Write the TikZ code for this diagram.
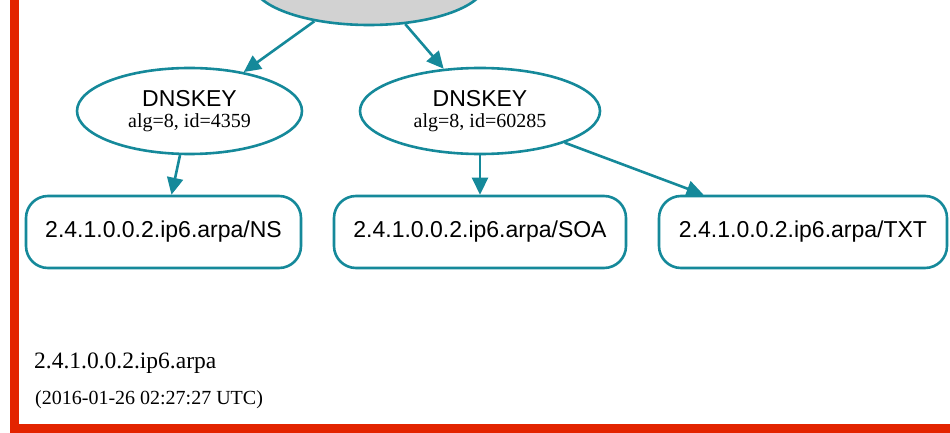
\documentclass[tikz,border=0pt]{standalone}
\usepackage{fontspec}
\setmainfont{Liberation Serif}
\setsansfont{Liberation Sans}
\usepackage{tikz}
\usetikzlibrary{shapes.geometric,arrows.meta}

\definecolor{dnsteal}{HTML}{15899A}
\definecolor{framered}{HTML}{E32400}

\tikzset{
  keynode/.style={draw=dnsteal,line width=2.6pt,ellipse,inner sep=0pt,
    minimum height=86pt,align=center,
    font=\sffamily\fontsize{23}{20}\selectfont},
  rrset/.style={draw=dnsteal,line width=2.6pt,rectangle,rounded corners=22pt,
    minimum height=72pt,inner sep=0pt,font=\sffamily\fontsize{23}{28}\selectfont},
  sig/.style={draw=dnsteal,line width=2.6pt,-{Triangle[length=17pt,width=16pt]}}
}
\newcommand{\keyinfo}[1]{\\[1pt]{\rmfamily\fontsize{20}{20}\selectfont #1}}

\begin{document}
\begin{tikzpicture}[x=1pt,y=-1pt]
  \useasboundingbox (0,0) rectangle (950,433);
  \clip (0,0) rectangle (950,433);

  % zone frame
  \draw[framered,line width=9pt] (14.5,-100) rectangle (1100,428);

  % keys
  \node[keynode,fill=lightgray!70,minimum width=234pt] (zone) at (369,-18) {};
  \node[keynode,minimum width=225pt] (key4359) at (189.5,111)
    {DNSKEY\keyinfo{alg=8, id=4359}};
  \node[keynode,minimum width=240pt] (key60285) at (480,111)
    {DNSKEY\keyinfo{alg=8, id=60285}};

  % rrsets
  \node[rrset,minimum width=275pt] (ns) at (163.5,232) {2.4.1.0.0.2.ip6.arpa/NS};
  \node[rrset,minimum width=292pt] (soa) at (480,232) {2.4.1.0.0.2.ip6.arpa/SOA};
  \node[rrset,minimum width=288pt] (txt) at (803,232) {2.4.1.0.0.2.ip6.arpa/TXT};

  \draw[sig] (zone) -- (key4359);
  \draw[sig] (zone) -- (key60285);
  \draw[sig] (key4359) -- (ns);
  \draw[sig] (key60285) -- (soa);
  \draw[sig] (key60285) -- (txt);

  % zone label
  \node[anchor=base west,inner sep=0pt,font=\fontsize{23.5}{28}\selectfont]
    (zname) at (34,368) {2.4.1.0.0.2.ip6.arpa};
  \node[anchor=base west,inner sep=0pt,font=\fontsize{20}{24}\selectfont]
    (ztime) at (35,404) {(2016-01-26 02:27:27 UTC)};
\end{tikzpicture}
\end{document}
